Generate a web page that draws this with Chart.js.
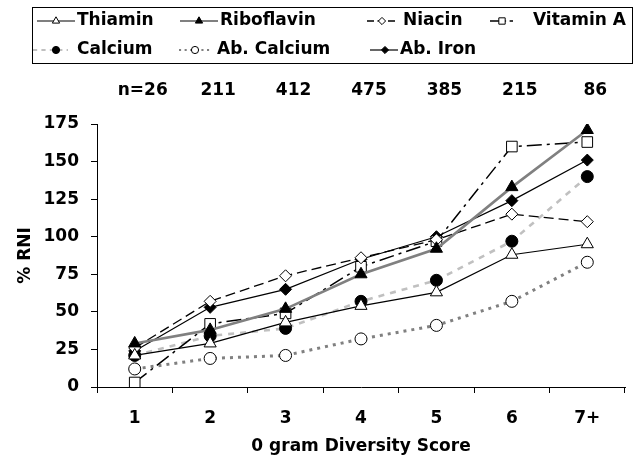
<!DOCTYPE html>
<html>
<head>
<meta charset="utf-8">
<script src="https://cdn.jsdelivr.net/npm/chart.js@4.4.1/dist/chart.umd.min.js"></script>
<style>
  body { margin: 0; background: #fff; }
  #wrap { width: 637px; height: 457px; }
</style>
</head>
<body>
<div id="wrap"><canvas id="myChart" width="637" height="457"></canvas></div>
<script>
const scores = ['1', '2', '3', '4', '5', '6', '7+'];
const counts = ['n=26', '211', '412', '475', '385', '215', '86'];
const yTicks = [0, 25, 50, 75, 100, 125, 150, 175];

const thiamin = [21, 29, 43, 54, 63, 88, 95];
const riboflavin = [29, 38, 52, 75, 92, 133, 171];
const niacin = [26, 57, 74, 86, 98, 115, 110];
const vitaminA = [3, 42, 49, 80, 97, 160, 163];
const calcium = [21, 34, 39, 57, 71, 97, 140];
const abCalcium = [12, 19, 21, 32, 41, 57, 83];
const abIron = [24, 53, 65, 85, 100, 124, 151];

const FONT = '"DejaVu Sans", sans-serif';

function series(label, data, color, width, dash, style, radius, fill) {
  return {
    label: label,
    data: data,
    borderColor: color,
    borderWidth: width,
    borderDash: dash,
    pointStyle: style,
    pointRadius: radius,
    pointHoverRadius: radius,
    pointBackgroundColor: fill,
    pointBorderColor: '#000',
    pointBorderWidth: 1,
    fill: false,
    tension: 0
  };
}

const datasets = [
  series('Thiamin', thiamin, '#000', 1.2, [], 'triangle', 7, '#fff'),
  series('Riboflavin', riboflavin, '#808080', 2.6, [], 'triangle', 7, '#000'),
  series('Niacin', niacin, '#000', 1.3, [10, 5], 'rectRot', 6, '#fff'),
  series('Vitamin A', vitaminA, '#000', 1.5, [15, 5, 3, 5], 'rect', 7.5, '#fff'),
  series('Calcium', calcium, '#c0c0c0', 2.6, [6, 6], 'circle', 6, '#000'),
  series('Ab. Calcium', abCalcium, '#808080', 3, [3, 5], 'circle', 6, '#fff'),
  series('Ab. Iron', abIron, '#000', 1.2, [], 'rectRot', 6, '#000')
];

// legend slots: which dataset, row, sample start/end, marker x, text x
const slots = [
  [0, 0, 37, 75, 56, 77], [1, 0, 180, 218, 199, 220], [2, 0, 367, 398, 382, 403], [3, 0, 490, 513, 502, 533],
  [4, 1, 33, 68, 56, 77], [5, 1, 179, 212, 195, 217], [6, 1, 370, 398, 385, 400]
];
const rowY = [21, 50];

function marker(ctx, style, x, y, r, fill) {
  ctx.save();
  ctx.setLineDash([]);
  ctx.lineWidth = 1;
  ctx.strokeStyle = '#000';
  ctx.fillStyle = fill;
  ctx.beginPath();
  if (style === 'triangle') {
    ctx.moveTo(x, y - r);
    ctx.lineTo(x + r * 0.866, y + r * 0.5);
    ctx.lineTo(x - r * 0.866, y + r * 0.5);
    ctx.closePath();
  } else if (style === 'rectRot') {
    ctx.moveTo(x, y - r);
    ctx.lineTo(x + r, y);
    ctx.lineTo(x, y + r);
    ctx.lineTo(x - r, y);
    ctx.closePath();
  } else if (style === 'rect') {
    const s = r * Math.SQRT1_2;
    ctx.rect(x - s, y - s, 2 * s, 2 * s);
  } else {
    ctx.arc(x, y, r, 0, Math.PI * 2);
  }
  ctx.fill();
  ctx.stroke();
  ctx.restore();
}

const extras = {
  id: 'extras',
  afterDraw(chart) {
    const ctx = chart.ctx;
    const xs = chart.scales.x;
    ctx.save();
    // legend box
    ctx.strokeStyle = '#000';
    ctx.lineWidth = 1;
    ctx.strokeRect(32.5, 7.5, 600, 56);
    ctx.font = 'bold 17px ' + FONT;
    ctx.fillStyle = '#000';
    ctx.textBaseline = 'middle';
    slots.forEach(function (s) {
      const ds = chart.data.datasets[s[0]];
      const y = rowY[s[1]];
      ctx.save();
      ctx.strokeStyle = ds.borderColor;
      ctx.lineWidth = Math.min(ds.borderWidth, 2.2);
      ctx.setLineDash(ds.borderDash.map(function (d) { return d * 0.7; }));
      ctx.beginPath();
      ctx.moveTo(s[2], y);
      ctx.lineTo(s[3], y);
      ctx.stroke();
      ctx.restore();
      marker(ctx, ds.pointStyle, s[4], y, ds.pointRadius * 0.6, ds.pointBackgroundColor);
      ctx.textAlign = 'left';
      ctx.fillText(ds.label, s[5], y);
    });
    // sample sizes
    ctx.textAlign = 'center';
    counts.forEach(function (c, i) {
      ctx.fillText(c, xs.getPixelForValue(i) + 8, 91);
    });
    ctx.restore();
  }
};

const ctx = document.getElementById('myChart').getContext('2d');
new Chart(ctx, {
  type: 'line',
  data: { labels: scores, datasets: datasets },
  options: {
    responsive: false,
    animation: false,
    events: [],
    layout: { padding: { top: 124, right: 12, left: 0, bottom: 0 } },
    plugins: { legend: { display: false }, tooltip: { enabled: false } },
    scales: {
      x: {
        offset: true,
        grid: { offset: true, drawOnChartArea: false, tickLength: 6, color: '#000' },
        border: { color: '#000', width: 1 },
        ticks: { color: '#000', font: { family: FONT, size: 17, weight: 'bold' }, padding: 15, maxRotation: 0 },
        title: { display: true, text: '0 gram Diversity Score', color: '#000', font: { family: FONT, size: 17, weight: 'bold' }, padding: { top: -1, bottom: 0 } },
        afterFit: function (scale) { scale.height = 70; }
      },
      y: {
        min: 0,
        max: 175,
        afterBuildTicks: function (scale) { scale.ticks = yTicks.map(function (v) { return { value: v }; }); },
        grid: { drawOnChartArea: false, tickLength: 6, color: '#000' },
        border: { color: '#000', width: 1 },
        ticks: { color: '#000', font: { family: FONT, size: 17, weight: 'bold' }, padding: 12 },
        title: { display: true, text: '% RNI', color: '#000', font: { family: FONT, size: 17, weight: 'bold' }, padding: { top: 15, bottom: 4 } },
        afterFit: function (scale) { scale.width = 97; }
      }
    }
  },
  plugins: [extras]
});
</script>
</body>
</html>
